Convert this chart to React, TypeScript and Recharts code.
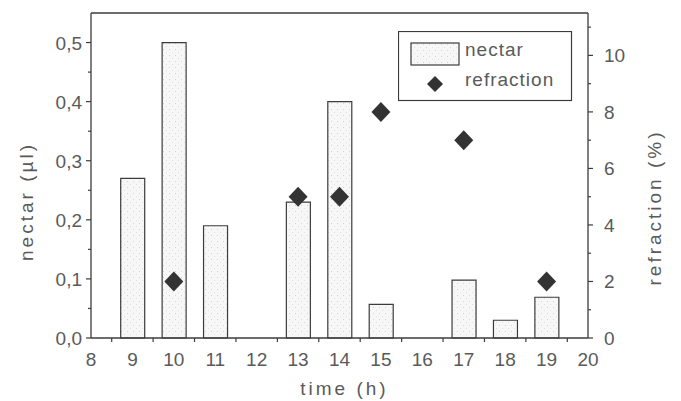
import React from 'react';
import { ComposedChart, Bar, Scatter, XAxis, YAxis, Legend, Label } from 'recharts';

// nectar volume per hour (µl), null = no sample
const hours = [9, 10, 11, 12, 13, 14, 15, 16, 17, 18, 19];
const nectar = [0.27, 0.5, 0.19, null, 0.23, 0.4, 0.057, null, 0.098, 0.03, 0.069];

// sugar refraction (%)
const refractionHours = [10, 13, 14, 15, 17, 19];
const refraction = [2, 5, 5, 8, 7, 2];

const hourTicks = [8, 9, 10, 11, 12, 13, 14, 15, 16, 17, 18, 19, 20];
const halfHourTicks = [8.5, 9.5, 10.5, 11.5, 12.5, 13.5, 14.5, 15.5, 16.5, 17.5, 18.5, 19.5];
const nectarTicks = [0, 0.05, 0.1, 0.15, 0.2, 0.25, 0.3, 0.35, 0.4, 0.45, 0.5];
const refractionTicks = [0, 1, 2, 3, 4, 5, 6, 7, 8, 9, 10, 11];

const nectarRows = hours.map((h, i) => ({ hour: h, nectar: nectar[i] }));
const refractionRows = refractionHours.map((h, i) => ({ hour: h, refraction: refraction[i] }));

const FONT = '"Liberation Sans", Arial, Helvetica, sans-serif';
const INK = '#3c3c3c';
const TEXT = '#5a5a5a';

const BottomTick = (props: any) => {
  const { x, y, payload } = props;
  const v = payload.value;
  if (v % 1 !== 0) {
    return <line x1={x} y1={y} x2={x} y2={y + 4} stroke={INK} strokeWidth={1.2} />;
  }
  return (
    <text x={x} y={y + 28} textAnchor="middle" fontSize={19} fill={TEXT} fontFamily={FONT}>
      {v}
    </text>
  );
};

const LeftTick = (props: any) => {
  const { x, y, payload } = props;
  const v = payload.value;
  const major = Math.round(v * 100) % 10 === 0;
  return (
    <g>
      <line x1={x - (major ? 5 : 3)} y1={y} x2={x} y2={y} stroke={INK} strokeWidth={1.2} />
      {major && (
        <text x={x - 9} y={y + 7} textAnchor="end" fontSize={19} fill={TEXT} fontFamily={FONT}>
          {v.toFixed(1).replace('.', ',')}
        </text>
      )}
    </g>
  );
};

const RightTick = (props: any) => {
  const { x, y, payload } = props;
  const v = payload.value;
  const major = v % 2 === 0;
  return (
    <g>
      <line x1={x} y1={y} x2={x + (major ? 5 : 3)} y2={y} stroke={INK} strokeWidth={1.2} />
      {major && (
        <text x={x + 16} y={y + 7} textAnchor="start" fontSize={19} fill={TEXT} fontFamily={FONT}>
          {v}
        </text>
      )}
    </g>
  );
};

const Diamond = (props: any) => {
  const { cx, cy } = props;
  const w = 9.5;
  const h = 10;
  return (
    <polygon
      points={`${cx},${cy - h} ${cx + w},${cy} ${cx},${cy + h} ${cx - w},${cy}`}
      fill="#333"
    />
  );
};

const rotatedTitle = (text: string, dx: number, dy: number) => (props: any) => {
  const vb = props.viewBox;
  const cx = vb.x + dx;
  const cy = vb.y + vb.height / 2 + dy;
  return (
    <text
      x={cx}
      y={cy}
      transform={`rotate(-90, ${cx}, ${cy})`}
      textAnchor="middle"
      dominantBaseline="central"
      fontSize={19}
      letterSpacing={3}
      fill={TEXT}
      fontFamily={FONT}
    >
      {text}
    </text>
  );
};

const timeTitle = (props: any) => {
  const vb = props.viewBox;
  return (
    <text
      x={vb.x + vb.width / 2 + 5}
      y={vb.y + 57}
      textAnchor="middle"
      fontSize={19}
      letterSpacing={3}
      fill={TEXT}
      fontFamily={FONT}
    >
      time (h)
    </text>
  );
};

const LegendBox = () => (
  <svg width={175} height={71} style={{ display: 'block' }}>
    <rect x={0.5} y={0.5} width={173} height={69} fill="#fff" stroke={INK} strokeWidth={1.2} />
    <rect x={13} y={12} width={48} height={22} fill="url(#stipple)" stroke={INK} strokeWidth={1.2} />
    <text x={67} y={25} fontSize={19} letterSpacing={1} fill={TEXT} fontFamily={FONT}>
      nectar
    </text>
    <polygon points="37,45 45,53 37,61 29,53" fill="#333" />
    <text x={67} y={55} fontSize={19} letterSpacing={1} fill={TEXT} fontFamily={FONT}>
      refraction
    </text>
  </svg>
);

export default function App() {
  return (
    <div style={{ position: 'absolute', left: 0, top: 0, width: 681, height: 401, background: '#fff' }}>
      <ComposedChart width={681} height={401} data={nectarRows} margin={{ top: 0, right: 0, bottom: 0, left: 0 }}>
        <defs>
          <pattern id="stipple" width={6} height={6} patternUnits="userSpaceOnUse">
            <rect width={6} height={6} fill="#f7f7f7" />
            <rect x={1} y={1} width={1} height={1} fill="#d2d2d2" />
            <rect x={4} y={4} width={1} height={1} fill="#e0e0e0" />
          </pattern>
        </defs>
        <XAxis
          xAxisId="bottom"
          dataKey="hour"
          type="number"
          domain={[8, 20]}
          ticks={[...hourTicks, ...halfHourTicks]}
          height={63}
          tickSize={0}
          tickMargin={0}
          tickLine={false}
          tick={<BottomTick />}
          axisLine={{ stroke: INK, strokeWidth: 1.3 }}
          interval={0}
        >
          <Label content={timeTitle} />
        </XAxis>
        <XAxis
          xAxisId="top"
          orientation="top"
          dataKey="hour"
          type="number"
          domain={[8, 20]}
          ticks={halfHourTicks}
          height={13}
          tickSize={4}
          tick={false}
          tickLine={{ stroke: INK, strokeWidth: 1.2 }}
          axisLine={{ stroke: INK, strokeWidth: 1.3 }}
          interval={0}
        />
        <XAxis xAxisId="bars" dataKey="hour" type="number" domain={[8, 20]} ticks={hourTicks} height={0} hide />
        <YAxis
          yAxisId="left"
          type="number"
          domain={[0, 0.55]}
          ticks={nectarTicks}
          width={91}
          tickSize={0}
          tickMargin={0}
          tickLine={false}
          tick={<LeftTick />}
          axisLine={{ stroke: INK, strokeWidth: 1.3 }}
          interval={0}
        >
          <Label content={rotatedTitle('nectar (µl)', 26, 26)} />
        </YAxis>
        <YAxis
          yAxisId="right"
          orientation="right"
          type="number"
          domain={[0, 11.5]}
          ticks={refractionTicks}
          width={93}
          tickSize={0}
          tickMargin={0}
          tickLine={false}
          tick={<RightTick />}
          axisLine={{ stroke: INK, strokeWidth: 1.3 }}
          interval={0}
        >
          <Label content={rotatedTitle('refraction (%)', 66, 32)} />
        </YAxis>
        <Bar
          xAxisId="bars"
          yAxisId="left"
          dataKey="nectar"
          barSize={24}
          fill="url(#stipple)"
          stroke={INK}
          strokeWidth={1.2}
          isAnimationActive={false}
        />
        <Scatter
          xAxisId="bottom"
          yAxisId="right"
          data={refractionRows}
          dataKey="refraction"
          shape={<Diamond />}
          isAnimationActive={false}
        />
        <Legend
          layout="vertical"
          align="center"
          verticalAlign="middle"
          wrapperStyle={{ top: 31, left: 398, width: 175, height: 71 }}
          content={() => <LegendBox />}
        />
      </ComposedChart>
    </div>
  );
}
